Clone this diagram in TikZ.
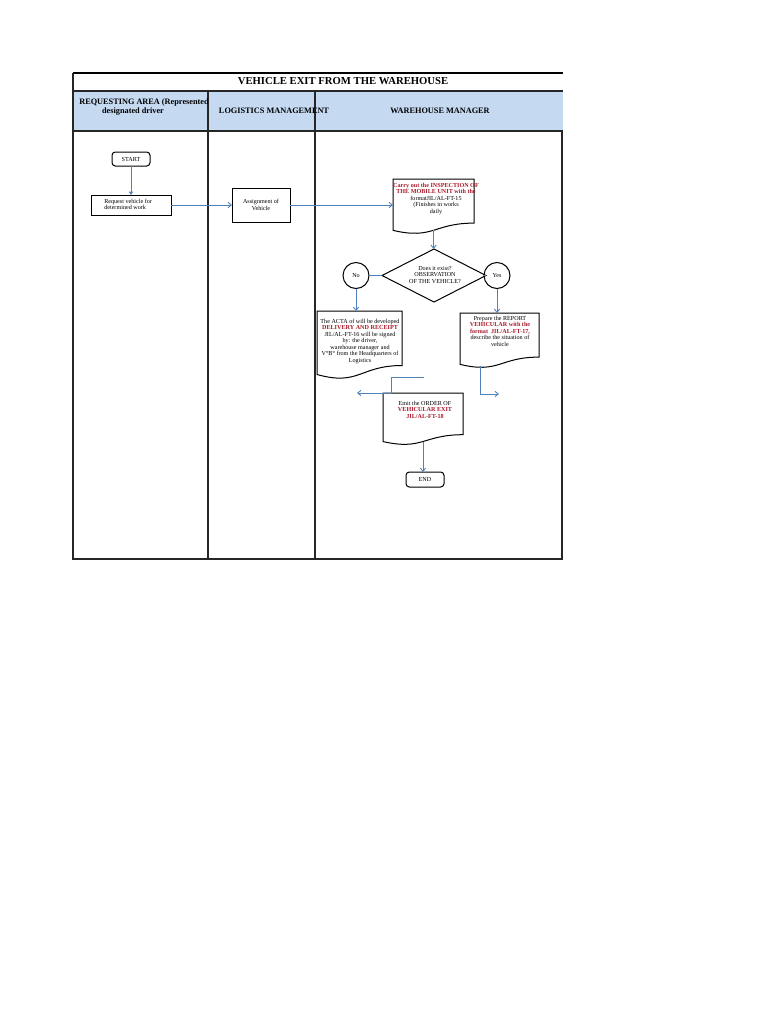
\documentclass[tikz,border=0pt]{standalone}
\usepackage{fontspec}
\setmainfont{Liberation Serif}
\usetikzlibrary{shapes.geometric,arrows.meta,calc}
\definecolor{hdrblue}{RGB}{197,217,241}
\definecolor{connblue}{RGB}{79,129,189}
\definecolor{docred}{RGB}{168,24,40}
\newcommand\rb[1]{\textcolor{docred}{\bfseries #1}}
% document shape: #1 name, #2 x0, #3 y0, #4 width, #5 full height (px)
\newcommand\mkdoc[5]{%
  \node[inner sep=0pt, outer sep=0pt, minimum width={#4*0.75pt}, minimum height={0.933*#5*0.75pt}, anchor=north west] (#1) at (#2,#3) {};
  \draw[boxline] (#1.north west) -- (#1.north east) -- ($(#1.north east)+(0,0.802*#5)$)
    .. controls ($(#1.north)+(0,0.802*#5)$) and ($(#1.north)+(0,1.107*#5)$) .. ($(#1.north west)+(0,0.934*#5)$) -- cycle;}
\begin{document}
\begin{tikzpicture}[x=0.75pt,y=-0.75pt,
  tline/.style={draw=black!85, line width=0.9pt},
  boxline/.style={draw=black, line width=0.75pt},
  procbox/.style={draw=black, line width=0.75pt, inner sep=0pt, outer sep=0pt},
  termbox/.style={procbox, rounded corners=2.5pt},
  conn/.style={draw=connblue, line width=0.65pt},
  openarrow/.style={-{Straight Barb[length=2.5pt,width=4pt]}},
  fillarrow/.style={-{Triangle[length=2.5pt,width=3pt]}},
  bodytext/.style={font=\fontsize{4.6}{4.9}\selectfont, inner sep=0pt, align=center},
  hdrtext/.style={font=\fontsize{6.2}{6.6}\selectfont\bfseries, inner sep=0pt}
]
\useasboundingbox (0,0) rectangle (768,1024);
% ---- table ----
\fill[hdrblue] (73,91) rectangle (563,131);
\draw[draw=black, line width=1.5pt] (73,73) -- (563,73);
\draw[tline] (73,91) -- (563,91);
\draw[tline] (73,131) -- (563,131);
\draw[tline] (73,73) -- (73,559) -- (562,559) -- (562,131);
\draw[tline] (208,91) -- (208,559);
\draw[tline] (315,91) -- (315,559);
\node[font=\fontsize{8}{9}\selectfont\bfseries, inner sep=0pt] (title) at (343,81) {VEHICLE EXIT FROM THE WAREHOUSE};
\node[hdrtext] (hdrA) at (144,103) {REQUESTING AREA (Represented};
\node[hdrtext] (hdrB) at (133,111.5) {designated driver};
\node[hdrtext] (hdrC) at (274,111) {LOGISTICS MANAGEMENT};
\node[hdrtext] (hdrD) at (440,111) {WAREHOUSE MANAGER};
% ---- nodes ----
\node[termbox, minimum width={38*0.75pt}, minimum height={14*0.75pt}, font=\fontsize{4.6}{4.9}\selectfont] (start) at (131,159) {START};
\node[procbox, minimum width={80*0.75pt}, minimum height={20*0.75pt}] (req) at (131,205) {};
\node[bodytext, align=left, anchor=west] (reqtxt) at (104,204.5) {Request vehicle for\\determined work};
\node[procbox, minimum width={58*0.75pt}, minimum height={34*0.75pt}] (asg) at (261,205) {};
\node[bodytext] (asgtxt) at (261,205) {Assignment of\\Vehicle};
\mkdoc{insp}{393}{179}{81}{55}
\node[bodytext, anchor=north] (insptxt) at (436,182.5) {\rb{Carry out the INSPECTION OF}\\\rb{THE MOBILE UNIT with the}\\formatJIL/AL-FT-15\\(Finishes in works\\daily};
\node[draw=black, line width=0.75pt, shape=diamond, inner sep=0pt, outer sep=0pt, minimum width={104*0.75pt}, minimum height={53*0.75pt}] (dia) at (434,275.5) {};
\node[bodytext] (diatxt) at (435,275) {Does it exist?\\OBSERVATION\\OF THE VEHICLE?};
\node[draw=black, line width=0.75pt, circle, inner sep=0pt, minimum size={26*0.75pt}, font=\fontsize{4.6}{4.9}\selectfont] (no) at (356,275.5) {No};
\node[draw=black, line width=0.75pt, circle, inner sep=0pt, minimum size={26*0.75pt}, font=\fontsize{4.6}{4.9}\selectfont] (yes) at (497,275.5) {Yes};
\mkdoc{acta}{317}{311}{85}{68}
\node[bodytext, anchor=north] (actatxt) at (360,318.5) {The ACTA of will be developed\\\rb{DELIVERY AND RECEIPT}\\JIL/AL-FT-16 will be signed\\by: the driver,\\warehouse manager and\\V°B° from the Headquarters of\\Logistics};
\mkdoc{rep}{460}{313}{79}{55}
\node[bodytext, anchor=north] (reptxt) at (500,315.5) {Prepare the REPORT\\\rb{VEHICULAR with the}\\\rb{format\ \ JIL/AL-FT-17,}\\describe the situation of\\vehicle};
\mkdoc{ord}{383}{393}{80}{52}
\node[bodytext, anchor=north] (ordtxt) at (425,400.5) {Emit the ORDER OF\\\rb{VEHICULAR EXIT}\\\rb{JIL/AL-FT-18}};
\node[termbox, minimum width={38*0.75pt}, minimum height={15*0.75pt}, font=\fontsize{4.6}{4.9}\selectfont] (endn) at (425,479.5) {END};
% ---- free connector ends ----
\coordinate (repout) at ($(rep.south west)+(20,2)$);
\coordinate (repend) at (499,394);
\coordinate (midA) at (424,377);
\coordinate (leftend) at (357,393);
% ---- connectors ----
\draw[conn, fillarrow] (start.south) -- (start.south |- req.north);
\draw[conn, openarrow] (req.east) -- (asg.west);
\draw[conn, openarrow] (asg.east) -- (asg.east -| insp.west);
\draw[conn, openarrow] (insp.south) -- (insp.south |- dia.north);
\draw[conn] (dia.west) -- (no.east);
\draw[conn] (dia.east) -- (yes.west);
\draw[conn, openarrow] (no.south) -- (no.south |- acta.north);
\draw[conn, openarrow] (yes.south) -- (yes.south |- rep.north);
\draw[conn, openarrow] (repout) |- (repend);
\draw[conn, openarrow] (midA) -| ($(ord.north west)+(8,0)$) -- (leftend);
\draw[conn, openarrow] (ord.south) -- (ord.south |- endn.north);
\end{tikzpicture}
\end{document}
